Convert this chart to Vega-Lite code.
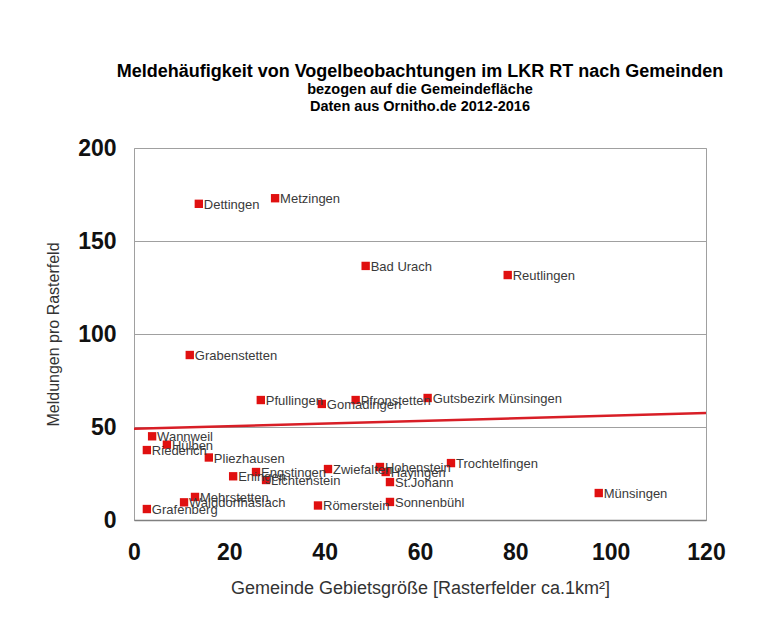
{
  "$schema": "https://vega.github.io/schema/vega-lite/v6.json",
  "autosize": "none",
  "width": 572,
  "height": 372,
  "padding": {"left": 134, "top": 148, "right": 67, "bottom": 117},
  "background": "white",
  "config": {
    "font": "Liberation Sans",
    "view": {"stroke": "#a0a0a0", "strokeWidth": 1}
  },
  "title": {
    "text": "Meldehäufigkeit von Vogelbeobachtungen im LKR RT nach Gemeinden",
    "subtitle": ["bezogen auf die Gemeindefläche", "Daten aus Ornitho.de 2012-2016"],
    "anchor": "middle",
    "font": "Liberation Sans",
    "fontSize": 18,
    "fontWeight": "bold",
    "color": "#000000",
    "subtitleFont": "Liberation Sans",
    "subtitleFontSize": 14.5,
    "subtitleFontWeight": "bold",
    "subtitleColor": "#000000",
    "subtitlePadding": 2,
    "subtitleLineHeight": 17,
    "offset": 24
  },
  "datasets": {
    "points": [
      {"name": "Dettingen", "area": 13.6, "rate": 170},
      {"name": "Metzingen", "area": 29.6, "rate": 173},
      {"name": "Bad Urach", "area": 48.6, "rate": 136.6},
      {"name": "Reutlingen", "area": 78.4, "rate": 131.7},
      {"name": "Grabenstetten", "area": 11.7, "rate": 88.7},
      {"name": "Pfullingen", "area": 26.6, "rate": 64.5},
      {"name": "Gomadingen", "area": 39.4, "rate": 62.4},
      {"name": "Pfronstetten", "area": 46.5, "rate": 64.5},
      {"name": "Gutsbezirk Münsingen", "area": 61.6, "rate": 65.6},
      {"name": "Wannweil", "area": 3.8, "rate": 45},
      {"name": "Hülben", "area": 6.9, "rate": 40.5},
      {"name": "Riederich", "area": 2.7, "rate": 37.6},
      {"name": "Pliezhausen", "area": 15.7, "rate": 33.6},
      {"name": "Eningen", "area": 20.8, "rate": 23.5},
      {"name": "Engstingen", "area": 25.6, "rate": 25.8},
      {"name": "Lichtenstein", "area": 27.7, "rate": 21.5},
      {"name": "Zwiefalten", "area": 40.7, "rate": 27.4},
      {"name": "Hohenstein", "area": 51.6, "rate": 28.5},
      {"name": "Hayingen", "area": 52.8, "rate": 25.8},
      {"name": "St.Johann", "area": 53.7, "rate": 20.4},
      {"name": "Trochtelfingen", "area": 66.5, "rate": 30.6},
      {"name": "Münsingen", "area": 97.5, "rate": 14.5},
      {"name": "Sonnenbühl", "area": 53.7, "rate": 9.7},
      {"name": "Römerstein", "area": 38.6, "rate": 7.8},
      {"name": "Mehrstetten", "area": 12.8, "rate": 12.4},
      {"name": "Walddorfhäslach", "area": 10.5, "rate": 9.5},
      {"name": "Grafenberg", "area": 2.7, "rate": 5.9}
    ],
    "trend": [
      {"area": 0, "rate": 49},
      {"area": 120, "rate": 57.5}
    ]
  },
  "layer": [
    {
      "data": {"name": "trend"},
      "mark": {"type": "line", "color": "#d81e26", "strokeWidth": 2.5, "clip": true},
      "encoding": {
        "x": {"field": "area", "type": "quantitative"},
        "y": {"field": "rate", "type": "quantitative"}
      }
    },
    {
      "data": {"name": "points"},
      "mark": {"type": "square", "color": "#e01010", "filled": true, "opacity": 1, "size": 70},
      "encoding": {
        "x": {
          "field": "area",
          "type": "quantitative",
          "scale": {"domain": [0, 120], "nice": false},
          "axis": {
            "title": "Gemeinde Gebietsgröße [Rasterfelder ca.1km²]",
            "titleFont": "Liberation Sans",
            "titleFontSize": 18,
            "titleFontWeight": "normal",
            "titleColor": "#333333",
            "titlePadding": 15,
            "values": [0, 20, 40, 60, 80, 100, 120],
            "labelFontSize": 23,
            "labelFontWeight": "bold",
            "labelColor": "#111111",
            "labelPadding": 21,
            "labelFlush": false,
            "labelOverlap": false,
            "ticks": false,
            "grid": false,
            "domainColor": "#808080",
            "domainWidth": 1.5
          }
        },
        "y": {
          "field": "rate",
          "type": "quantitative",
          "scale": {"domain": [0, 200], "nice": false},
          "axis": {
            "title": "Meldungen pro Rasterfeld",
            "titleFont": "Liberation Sans",
            "titleFontSize": 16,
            "titleFontWeight": "normal",
            "titleColor": "#333333",
            "titlePadding": 16,
            "values": [0, 50, 100, 150, 200],
            "labelFontSize": 23,
            "labelFontWeight": "bold",
            "labelColor": "#111111",
            "labelPadding": 18,
            "labelFlush": false,
            "ticks": false,
            "grid": true,
            "gridColor": "#a0a0a0",
            "gridWidth": 1,
            "domain": false
          }
        }
      }
    },
    {
      "data": {"name": "points"},
      "mark": {"type": "text", "align": "left", "baseline": "middle", "dx": 5, "dy": 1, "fontSize": 13, "font": "Liberation Sans", "color": "#3a3a3a"},
      "encoding": {
        "x": {"field": "area", "type": "quantitative"},
        "y": {"field": "rate", "type": "quantitative"},
        "text": {"field": "name"}
      }
    }
  ]
}
